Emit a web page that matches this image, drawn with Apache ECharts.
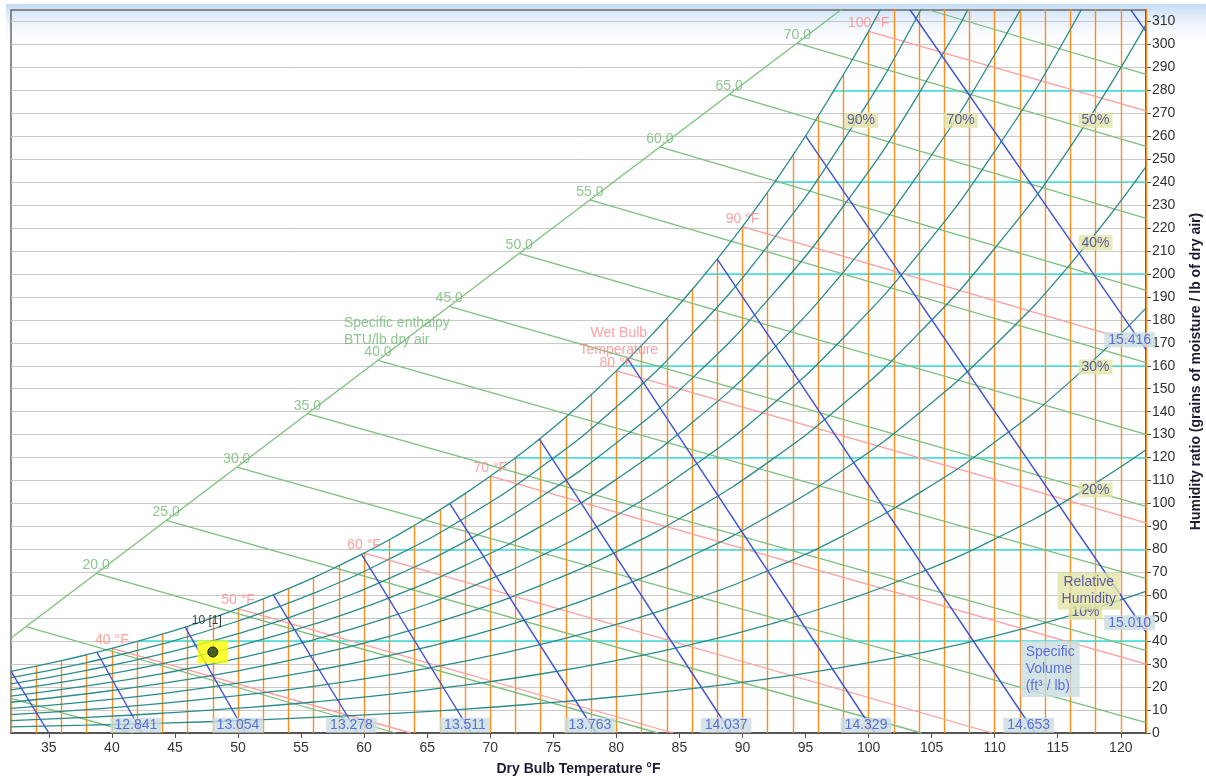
<!DOCTYPE html>
<html>
<head>
<meta charset="utf-8">
<title>Psychrometric chart</title>
<script src="https://cdn.jsdelivr.net/npm/echarts@6/dist/echarts.min.js"></script>
<style>
    html, body { margin: 0; padding: 0; background: #fff; }
    #chart { width: 1206px; height: 777px; }
</style>
</head>
<body>
<div id="chart"></div>
<script>
// axis ticks
var xTicks = [35, 40, 45, 50, 55, 60, 65, 70, 75, 80, 85, 90, 95, 100, 105, 110, 115, 120];
var yTicks = [0, 10, 20, 30, 40, 50, 60, 70, 80, 90, 100, 110, 120, 130, 140, 150, 160, 170, 180, 190, 200,
    210, 220, 230, 240, 250, 260, 270, 280, 290, 300, 310];

// saturation line (100%), grains / lb, every 2 °F - also the top of the dry bulb lines
var satTemps = [32, 34, 36, 38, 40, 42, 44, 46, 48, 50, 52, 54, 56, 58, 60, 62, 64, 66, 68, 70, 72, 74, 76, 78,
    80, 82, 84, 86, 88, 90, 92, 94, 96, 98, 100, 102, 104, 106, 108, 110, 112, 114, 116, 118, 120, 122];
var satGrains = [26.8, 29.1, 31.5, 34.1, 36.9, 39.9, 43.1, 46.5, 50.2, 54.2, 58.4, 62.9, 67.7, 72.9, 78.4, 84.2,
    90.5, 97.2, 104.3, 111.9, 119.9, 128.5, 137.7, 147.4, 157.8, 168.9, 180.6, 193.1, 206.5, 220.6, 235.7, 251.7,
    268.7, 286.8, 305.7, 326.6, 348.4, 371.6, 396.2, 422.3, 450.0, 479.5, 510.8, 544.1, 579.5, 617.1];

// relative humidity curves 10% .. 90%
var rhTemps = [32, 38, 44, 50, 56, 62, 68, 74, 80, 86, 92, 98, 104, 110, 116, 122];
var rh10 = [2.7, 3.4, 4.3, 5.4, 6.8, 8.4, 10.4, 12.9, 15.8, 19.3, 23.6, 28.7, 34.8, 42.2, 51.1, 61.7];
var rh20 = [5.4, 6.8, 8.6, 10.8, 13.5, 16.8, 20.9, 25.7, 31.6, 38.6, 47.1, 57.4, 69.7, 84.5, 102.2, 123.4];
var rh30 = [8.0, 10.2, 12.9, 16.3, 20.3, 25.3, 31.3, 38.6, 47.3, 57.9, 70.7, 86.0, 104.5, 126.7, 153.2, 185.1];
var rh40 = [10.7, 13.6, 17.2, 21.7, 27.1, 33.7, 41.7, 51.4, 63.1, 77.3, 94.3, 114.7, 139.3, 168.9, 204.3, 246.8];
var rh50 = [13.4, 17.1, 21.6, 27.1, 33.9, 42.1, 52.1, 64.3, 78.9, 96.6, 117.8, 143.4, 174.2, 211.1, 255.4, 308.6];
var rh60 = [16.1, 20.5, 25.9, 32.5, 40.6, 50.5, 62.6, 77.1, 94.7, 115.9, 141.4, 172.1, 209.0, 253.4, 306.5, 370.3];
var rh70 = [18.8, 23.9, 30.2, 37.9, 47.4, 58.9, 73.0, 90.0, 110.5, 135.2, 165.0, 200.8, 243.9, 295.6, 357.6, 432.0];
var rh80 = [21.4, 27.3, 34.5, 43.3, 54.2, 67.4, 83.4, 102.8, 126.3, 154.5, 188.6, 229.5, 278.7, 337.8, 408.7, 493.7];
var rh90 = [24.1, 30.7, 38.8, 48.8, 60.9, 75.8, 93.8, 115.7, 142.0, 173.8, 212.1, 258.1, 313.6, 380.1, 459.7, 555.4];
var rhLabelText = ['90%', '70%', '50%', '40%', '30%', '20%', '10%'];
var rhLabelPos = [[99.4, 267], [107.3, 267], [118.0, 267], [118.0, 213.6], [118.0, 159.5], [118.0, 105.9], [117.2, 52.7]];

// specific enthalpy lines (BTU/lb dry air)
var enthalpyValues = [10, 15, 20, 25, 30, 35, 40, 45, 50, 55, 60, 65, 70, 75];
var enthalpyStart = [[32, 15.1], [33.2, 46.3], [38.75, 69.5], [44.3, 92.6], [49.9, 115.8], [55.5, 139.1], [61.1, 162.4],
    [66.75, 185.9], [72.3, 209.0], [77.9, 232.3], [83.45, 255.4], [88.95, 278.2], [94.35, 300.6], [104.8, 315]];
var enthalpyEnd = [[41.7, 0], [62.5, 0], [83.3, 0], [104.2, 0], [122, 4.5], [122, 35.9], [122, 67.3],
    [122, 98.7], [122, 130.1], [122, 161.4], [122, 192.8], [122, 224.2], [122, 255.6], [122, 287.0]];
var enthalpyScale = [[32, 41.4], [97.8, 315]];

// wet bulb lines
var wbTemps = [40, 50, 60, 70, 80, 90, 100];
var wbStart = [[40, 36.9], [50, 54.2], [60, 78.4], [70, 111.9], [80, 157.8], [90, 220.6], [100, 305.7]];
var wbEnd = [[63.7, 0], [84.5, 0], [109.8, 0], [122, 30], [122, 91.5], [122, 169], [122, 271]];

// specific volume lines (ft3 / lb)
var volTop = [[32, 26.8], [38.8, 35.3], [45.8, 46.2], [52.8, 60.2], [59.8, 77.8], [66.8, 99.9], [73.9, 128.0],
    [80.9, 163.0], [88.0, 206.5], [95.0, 260.2], [103.3, 315], [120.8, 315]];
var volEnd = [[35.0, 0], [42.4, 0], [50.6, 0], [59.5, 0], [68.5, 0], [78.4, 0], [89.1, 0],
    [100.5, 0], [113.2, 0], [122, 44], [122, 167], [122, 305.7]];
var volLabels = ['12.841', '13.054', '13.278', '13.511', '13.763', '14.037', '14.329', '14.653', '15.010', '15.416'];
var volLabelPos = [[41.9, 3.4], [50.0, 3.4], [59.0, 3.4], [68.0, 3.4], [77.9, 3.4], [88.7, 3.4], [99.8, 3.4],
    [112.7, 3.4], [120.7, 48], [120.7, 171.3]];

// constant humidity ratio highlight lines
var cyanGrains = [40, 80, 120, 160, 200, 240, 280];
var cyanStartT = [42.1, 60.6, 72.0, 80.4, 87.0, 92.5, 97.25];

// plotted state point
var statePoint = [48.0, 35.3];
var stateLabel = '10 [1]';

var FONT = '"Liberation Sans", Arial, sans-serif';
var chart = echarts.init(document.getElementById('chart'));

function segs(starts, ends) {
    return starts.map(function (s, i) {
        return { coords: [s, ends[i]] };
    });
}

function lineFamily(name, data, color, width, z) {
    return {
        name: name,
        type: 'lines',
        coordinateSystem: 'cartesian2d',
        data: data,
        lineStyle: { color: color, width: width, opacity: 1 },
        z: z,
        clip: true,
        silent: true,
        animation: false
    };
}

function rhLine(values) {
    return {
        type: 'line',
        data: rhTemps.map(function (t, i) { return [t, values[i]]; }),
        smooth: true,
        symbol: 'none',
        lineStyle: { color: '#2b8b8b', width: 1.3 },
        clip: true,
        z: 6,
        silent: true,
        animation: false
    };
}

function textSeries(points, texts, label, z) {
    return {
        type: 'scatter',
        symbolSize: 0,
        data: points.map(function (p, i) {
            return { value: p, label: { formatter: texts[i] } };
        }),
        label: Object.assign({ show: true, fontFamily: FONT, fontSize: 14 }, label),
        clip: false,
        z: z,
        silent: true,
        animation: false
    };
}

var series = [
    lineFamily('cyan', cyanGrains.map(function (g, i) {
        return { coords: [[cyanStartT[i], g], [122, g]] };
    }), '#38dede', 1.6, 2),
    lineFamily('dry bulb', satTemps.map(function (t, i) {
        return { coords: [[t, 0], [t, satGrains[i]]] };
    }), '#ff8c1a', 1.4, 3),
    lineFamily('enthalpy', segs(enthalpyStart, enthalpyEnd).concat([{ coords: enthalpyScale }]), '#7cc07c', 1.3, 4),
    lineFamily('wet bulb', segs(wbStart, wbEnd), '#ff9d9d', 1.3, 5),
    {
        type: 'line',
        data: satTemps.map(function (t, i) { return [t, satGrains[i]]; }),
        smooth: true,
        symbol: 'none',
        lineStyle: { color: '#2b8b8b', width: 1.3 },
        clip: true,
        z: 6,
        silent: true,
        animation: false
    },
    rhLine(rh10), rhLine(rh20), rhLine(rh30), rhLine(rh40), rhLine(rh50),
    rhLine(rh60), rhLine(rh70), rhLine(rh80), rhLine(rh90),
    lineFamily('volume', segs(volTop, volEnd), '#3d52d6', 1.4, 7),

    // labels
    textSeries(enthalpyStart.slice(2, 13), enthalpyValues.slice(2, 13).map(function (h) { return h.toFixed(1); }),
        { position: 'top', distance: 1, color: '#73b873' }, 10),
    textSeries([[58.4, 174.8]], ['Specific enthalpy\nBTU/lb dry air'],
        { position: 'right', distance: 0, color: '#73b873', lineHeight: 17, align: 'left' }, 10),
    textSeries(wbStart, wbTemps.map(function (t) { return t + ' °F'; }),
        { position: 'top', distance: 1, color: '#ff8a8a' }, 10),
    textSeries([[80.2, 170.4]], ['Wet Bulb\nTemperature'],
        { position: 'inside', color: '#ff8a8a', lineHeight: 17, align: 'center' }, 10),
    textSeries(rhLabelPos, rhLabelText,
        { position: 'inside', color: '#3b3b94', backgroundColor: '#e1e4a6', padding: [1, 3, 0, 3] }, 11),
    textSeries([[117.46, 61.9]], ['Relative\nHumidity'],
        { position: 'inside', color: '#3b3b94', backgroundColor: '#e1e4a6', padding: [2, 4, 1, 4], lineHeight: 17, align: 'center' }, 12),
    textSeries(volLabelPos, volLabels,
        { position: 'inside', color: '#3d52d6', backgroundColor: '#c9dde0', padding: [1, 4, 0, 4] }, 11),
    textSeries([[112.06, 27.9]], ['Specific\nVolume\n(ft³ / lb)'],
        { position: 'inside', color: '#3d52d6', backgroundColor: '#c9dde0', padding: [3, 5, 2, 5], lineHeight: 17, align: 'left' }, 11),
    {
        type: 'scatter',
        data: [statePoint],
        symbol: 'rect',
        symbolSize: [31, 23],
        itemStyle: { color: '#ffff00' },
        label: { show: true, formatter: stateLabel, position: 'top', distance: 14, offset: [-6, 0], color: '#111', fontSize: 12, fontFamily: FONT },
        z: 13,
        silent: true,
        animation: false
    },
    {
        type: 'scatter',
        data: [statePoint],
        symbol: 'circle',
        symbolSize: 10,
        itemStyle: { color: '#1d3b1d', borderColor: '#000', borderWidth: 1 },
        z: 14,
        silent: true,
        animation: false
    }
];

var option = {
    animation: false,
    graphic: [{
        type: 'rect',
        left: 6,
        top: 4,
        shape: { width: 1200, height: 44 },
        style: {
            fill: new echarts.graphic.LinearGradient(0, 0, 0, 1, [
                { offset: 0, color: '#c4dbf5' },
                { offset: 1, color: 'rgba(255,255,255,0)' }
            ])
        },
        z: -10,
        silent: true
    }],
    grid: {
        left: 11,
        right: 60,
        top: 10,
        bottom: 44,
        show: true,
        borderColor: '#6b6b6b',
        borderWidth: 1.5,
        backgroundColor: 'transparent',
        containLabel: false,
        outerBoundsMode: 'none'
    },
    xAxis: {
        type: 'value',
        min: 32,
        max: 122,
        name: 'Dry Bulb Temperature °F',
        nameLocation: 'middle',
        nameGap: 29,
        nameTextStyle: { fontWeight: 'bold', fontSize: 14, color: '#1c1c30', fontFamily: FONT },
        axisLine: { show: true, onZero: false, lineStyle: { color: '#555', width: 2 } },
        axisTick: { show: true, customValues: xTicks, length: 5, lineStyle: { color: '#555' } },
        axisLabel: { customValues: xTicks, color: '#333', fontSize: 14, fontFamily: FONT, margin: 8 },
        splitLine: { show: false }
    },
    yAxis: {
        type: 'value',
        position: 'right',
        min: 0,
        max: 315,
        interval: 10,
        name: 'Humidity ratio (grains of moisture / lb of dry air)',
        nameLocation: 'middle',
        nameRotate: 90,
        nameGap: 43,
        nameTextStyle: { fontWeight: 'bold', fontSize: 14, color: '#1c1c30', fontFamily: FONT },
        axisLine: { show: true, lineStyle: { color: '#555', width: 2 } },
        axisTick: { show: true, customValues: yTicks, length: 5, lineStyle: { color: '#555' } },
        axisLabel: { customValues: yTicks, color: '#333', fontSize: 14, fontFamily: FONT, margin: 6 },
        splitLine: { show: true, lineStyle: { color: '#c8c8c8', width: 1 } }
    },
    series: series
};

chart.setOption(option);
</script>
</body>
</html>
